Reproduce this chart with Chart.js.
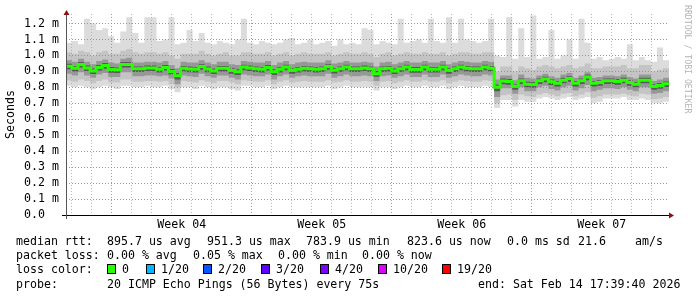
<!DOCTYPE html>
<html>
<head>
<meta charset="utf-8">
<script src="https://cdn.jsdelivr.net/npm/chart.js@4.4.1/dist/chart.umd.min.js"></script>
<style>
  html, body { margin: 0; padding: 0; background: #fff; }
  #wrap { position: relative; width: 697px; height: 297px; }
  canvas { position: absolute; left: 0; top: 0; }
  .row { position: absolute; left: 0; width: 697px; height: 14px; }
  .row span { position: absolute; top: 0; line-height: 14px; white-space: pre;
              font: 11.6px 'DejaVu Sans Mono', monospace; color: #000; }
  .row i { position: absolute; top: 2px; width: 7px; height: 8px; border: 1px solid #000; }
  #credit { position: absolute; left: 683px; top: 5px; writing-mode: vertical-rl;
            font: 8.2px 'DejaVu Sans Mono', monospace; color: #b4b4b4; white-space: pre; }
</style>
</head>
<body>
<div id="wrap">
  <canvas id="chartPing" width="697" height="297"></canvas>
  <div id="credit">RRDTOOL / TOBI OETIKER</div>
  <div class="row" style="top:234px">
    <span style="left:16px">median rtt:</span>
    <span style="left:107px">895.7 us avg</span>
    <span style="left:207px">951.3 us max</span>
    <span style="left:306px">783.9 us min</span>
    <span style="left:407px">823.6 us now</span>
    <span style="left:507px">0.0 ms sd</span>
    <span style="left:578px">21.6</span>
    <span style="left:635px">am/s</span>
  </div>
  <div class="row" style="top:248px">
    <span style="left:16px">packet loss:</span>
    <span style="left:107px">0.00 % avg</span>
    <span style="left:193px">0.05 % max</span>
    <span style="left:278px">0.00 % min</span>
    <span style="left:362px">0.00 % now</span>
  </div>
  <div class="row" id="lossRow" style="top:262px">
    <span style="left:16px">loss color:</span>
  </div>
  <div class="row" style="top:277px">
    <span style="left:16px">probe:</span>
    <span style="left:107px">20 ICMP Echo Pings (56 Bytes) every 75s</span>
    <span style="left:478px">end: Sat Feb 14 17:39:40 2026</span>
  </div>
</div>
<script>
// ---- data (milliseconds), 100 time buckets over the 30 day window ----
const SPAN_DAYS = 30.15;

const median = [
  0.933, 0.919, 0.944, 0.922, 0.903, 0.925, 0.937, 0.912, 0.910, 0.944,
  0.944, 0.916, 0.916, 0.922, 0.922, 0.913, 0.925, 0.900, 0.872, 0.919,
  0.915, 0.913, 0.930, 0.915, 0.903, 0.919, 0.919, 0.905, 0.898, 0.927,
  0.922, 0.916, 0.913, 0.925, 0.898, 0.913, 0.927, 0.905, 0.913, 0.919,
  0.916, 0.913, 0.916, 0.930, 0.907, 0.916, 0.927, 0.916, 0.916, 0.922,
  0.916, 0.886, 0.916, 0.919, 0.903, 0.916, 0.927, 0.912, 0.912, 0.927,
  0.913, 0.913, 0.927, 0.905, 0.916, 0.927, 0.919, 0.916, 0.916, 0.927,
  0.919, 0.800, 0.840, 0.837, 0.805, 0.841, 0.820, 0.818, 0.841, 0.852,
  0.835, 0.825, 0.845, 0.855, 0.825, 0.841, 0.865, 0.825, 0.830, 0.841,
  0.841, 0.837, 0.845, 0.830, 0.820, 0.845, 0.845, 0.805, 0.812, 0.822
];

// light smoke (outermost pings, incl. spikes)
const outerHi = [
  1.08, 1.09, 1.07, 1.23, 1.20, 1.16, 1.17, 1.12, 1.08, 1.15,
  1.24, 1.14, 1.08, 1.24, 1.24, 1.09, 1.10, 1.24, 1.07, 1.08,
  1.16, 1.09, 1.14, 1.08, 1.07, 1.09, 1.08, 1.07, 1.10, 1.23,
  1.08, 1.07, 1.09, 1.08, 1.07, 1.08, 1.10, 1.11, 1.07, 1.08,
  1.10, 1.07, 1.08, 1.09, 1.06, 1.10, 1.07, 1.08, 1.07, 1.17,
  1.16, 1.07, 1.09, 1.08, 1.07, 1.23, 1.08, 1.09, 1.10, 1.08,
  1.23, 1.09, 1.08, 1.24, 1.08, 1.23, 1.10, 1.09, 1.08, 1.09,
  1.23, 1.00, 0.99, 1.24, 0.98, 1.17, 0.99, 1.25, 0.98, 0.99,
  1.16, 0.98, 1.00, 1.10, 0.98, 1.23, 1.08, 0.98, 0.99, 0.97,
  0.98, 0.99, 0.98, 1.07, 0.97, 0.99, 0.97, 0.96, 1.05, 0.97
];
const outerLo = [
  0.81, 0.80, 0.81, 0.80, 0.79, 0.80, 0.81, 0.80, 0.79, 0.81,
  0.81, 0.80, 0.80, 0.81, 0.80, 0.80, 0.81, 0.79, 0.77, 0.80,
  0.80, 0.79, 0.81, 0.80, 0.79, 0.80, 0.80, 0.79, 0.78, 0.81,
  0.81, 0.80, 0.80, 0.81, 0.79, 0.80, 0.81, 0.80, 0.80, 0.80,
  0.80, 0.80, 0.80, 0.81, 0.79, 0.80, 0.81, 0.80, 0.80, 0.80,
  0.80, 0.78, 0.80, 0.80, 0.79, 0.80, 0.81, 0.80, 0.80, 0.81,
  0.80, 0.80, 0.81, 0.79, 0.80, 0.81, 0.80, 0.80, 0.80, 0.81,
  0.80, 0.67, 0.72, 0.72, 0.68, 0.72, 0.71, 0.71, 0.73, 0.74,
  0.73, 0.72, 0.73, 0.74, 0.72, 0.73, 0.74, 0.70, 0.71, 0.73,
  0.73, 0.73, 0.74, 0.72, 0.72, 0.73, 0.72, 0.70, 0.70, 0.71
];

// middle smoke
const midHi = [
  1.02, 1.01, 1.03, 1.02, 1.00, 1.02, 1.03, 1.01, 1.01, 1.03,
  1.04, 1.02, 1.01, 1.02, 1.02, 1.01, 1.02, 1.00, 0.98, 1.01,
  1.01, 1.01, 1.03, 1.01, 1.00, 1.01, 1.02, 1.00, 1.00, 1.02,
  1.02, 1.01, 1.01, 1.02, 1.00, 1.01, 1.02, 1.00, 1.01, 1.02,
  1.01, 1.01, 1.01, 1.02, 1.00, 1.01, 1.02, 1.01, 1.01, 1.02,
  1.01, 0.99, 1.01, 1.02, 1.00, 1.01, 1.02, 1.01, 1.01, 1.02,
  1.01, 1.01, 1.02, 1.00, 1.01, 1.02, 1.02, 1.01, 1.01, 1.02,
  1.02, 0.90, 0.93, 0.93, 0.90, 0.93, 0.92, 0.91, 0.93, 0.94,
  0.93, 0.92, 0.93, 0.94, 0.92, 0.93, 0.95, 0.92, 0.92, 0.93,
  0.93, 0.93, 0.94, 0.92, 0.92, 0.94, 0.94, 0.90, 0.91, 0.92
];
const midLo = [
  0.845, 0.835, 0.850, 0.840, 0.825, 0.840, 0.850, 0.830, 0.830, 0.850,
  0.850, 0.835, 0.835, 0.840, 0.840, 0.835, 0.840, 0.820, 0.800, 0.840,
  0.835, 0.830, 0.845, 0.835, 0.825, 0.840, 0.840, 0.830, 0.820, 0.845,
  0.840, 0.835, 0.835, 0.845, 0.820, 0.835, 0.845, 0.830, 0.835, 0.840,
  0.835, 0.835, 0.835, 0.845, 0.830, 0.835, 0.845, 0.835, 0.835, 0.840,
  0.835, 0.810, 0.835, 0.840, 0.825, 0.835, 0.845, 0.835, 0.835, 0.845,
  0.835, 0.835, 0.845, 0.825, 0.835, 0.845, 0.840, 0.835, 0.835, 0.845,
  0.840, 0.700, 0.750, 0.755, 0.720, 0.755, 0.745, 0.740, 0.755, 0.765,
  0.755, 0.745, 0.760, 0.765, 0.745, 0.755, 0.770, 0.735, 0.745, 0.755,
  0.755, 0.755, 0.760, 0.750, 0.745, 0.760, 0.755, 0.725, 0.730, 0.740
];

// darker smoke around the median
const innerHi = [
  0.970, 0.960, 0.980, 0.960, 0.945, 0.965, 0.975, 0.955, 0.950, 0.980,
  0.985, 0.955, 0.955, 0.960, 0.960, 0.955, 0.965, 0.940, 0.920, 0.960,
  0.955, 0.955, 0.970, 0.955, 0.945, 0.960, 0.960, 0.945, 0.940, 0.965,
  0.960, 0.955, 0.955, 0.965, 0.940, 0.955, 0.965, 0.945, 0.955, 0.960,
  0.955, 0.955, 0.955, 0.970, 0.950, 0.955, 0.965, 0.955, 0.955, 0.960,
  0.955, 0.930, 0.955, 0.960, 0.945, 0.955, 0.965, 0.955, 0.955, 0.965,
  0.955, 0.955, 0.965, 0.945, 0.955, 0.965, 0.960, 0.955, 0.955, 0.965,
  0.960, 0.850, 0.875, 0.875, 0.845, 0.880, 0.860, 0.855, 0.875, 0.885,
  0.870, 0.860, 0.880, 0.890, 0.860, 0.875, 0.895, 0.860, 0.865, 0.875,
  0.875, 0.870, 0.880, 0.865, 0.855, 0.880, 0.880, 0.840, 0.850, 0.860
];
const innerLo = [
  0.885, 0.875, 0.895, 0.875, 0.860, 0.880, 0.890, 0.865, 0.865, 0.895,
  0.895, 0.870, 0.870, 0.875, 0.875, 0.870, 0.875, 0.855, 0.820, 0.875,
  0.870, 0.865, 0.885, 0.870, 0.860, 0.875, 0.875, 0.860, 0.850, 0.880,
  0.875, 0.870, 0.870, 0.880, 0.850, 0.870, 0.880, 0.860, 0.870, 0.875,
  0.870, 0.870, 0.870, 0.885, 0.860, 0.870, 0.880, 0.870, 0.870, 0.875,
  0.870, 0.840, 0.870, 0.875, 0.860, 0.870, 0.880, 0.865, 0.865, 0.880,
  0.865, 0.865, 0.880, 0.860, 0.870, 0.880, 0.875, 0.870, 0.870, 0.880,
  0.875, 0.740, 0.795, 0.795, 0.760, 0.800, 0.775, 0.775, 0.800, 0.810,
  0.790, 0.780, 0.800, 0.810, 0.780, 0.795, 0.815, 0.775, 0.785, 0.795,
  0.795, 0.790, 0.800, 0.785, 0.775, 0.800, 0.800, 0.760, 0.765, 0.775
];

// darkest smoke hugging the median
const coreHi = [
  0.948, 0.934, 0.959, 0.937, 0.918, 0.940, 0.952, 0.927, 0.925, 0.959,
  0.959, 0.931, 0.931, 0.937, 0.937, 0.928, 0.940, 0.915, 0.890, 0.934,
  0.930, 0.928, 0.945, 0.930, 0.918, 0.934, 0.934, 0.920, 0.913, 0.942,
  0.937, 0.931, 0.928, 0.940, 0.913, 0.928, 0.942, 0.920, 0.928, 0.934,
  0.931, 0.928, 0.931, 0.945, 0.922, 0.931, 0.942, 0.931, 0.931, 0.937,
  0.931, 0.903, 0.931, 0.934, 0.918, 0.931, 0.942, 0.927, 0.927, 0.942,
  0.928, 0.928, 0.942, 0.920, 0.931, 0.942, 0.934, 0.931, 0.931, 0.942,
  0.934, 0.818, 0.855, 0.852, 0.820, 0.856, 0.835, 0.833, 0.856, 0.867,
  0.850, 0.840, 0.860, 0.870, 0.840, 0.856, 0.880, 0.840, 0.845, 0.856,
  0.856, 0.852, 0.860, 0.845, 0.835, 0.860, 0.860, 0.820, 0.827, 0.837
];
const coreLo = [
  0.913, 0.899, 0.924, 0.902, 0.883, 0.905, 0.917, 0.892, 0.890, 0.924,
  0.924, 0.896, 0.896, 0.902, 0.902, 0.893, 0.905, 0.880, 0.850, 0.899,
  0.895, 0.893, 0.910, 0.895, 0.883, 0.899, 0.899, 0.885, 0.878, 0.907,
  0.902, 0.896, 0.893, 0.905, 0.878, 0.893, 0.907, 0.885, 0.893, 0.899,
  0.896, 0.893, 0.896, 0.910, 0.887, 0.896, 0.907, 0.896, 0.896, 0.902,
  0.896, 0.866, 0.896, 0.899, 0.883, 0.896, 0.907, 0.892, 0.892, 0.907,
  0.893, 0.893, 0.907, 0.885, 0.896, 0.907, 0.899, 0.896, 0.896, 0.907,
  0.899, 0.775, 0.820, 0.817, 0.785, 0.821, 0.800, 0.798, 0.821, 0.832,
  0.815, 0.805, 0.825, 0.835, 0.805, 0.821, 0.845, 0.805, 0.810, 0.821,
  0.821, 0.817, 0.825, 0.810, 0.800, 0.825, 0.825, 0.785, 0.792, 0.802
];

const yTickValues = [0, 0.1, 0.2, 0.3, 0.4, 0.5, 0.6, 0.7, 0.8, 0.9, 1.0, 1.1, 1.2];
const yTickLabels = ['0.0  ', '0.1 m', '0.2 m', '0.3 m', '0.4 m', '0.5 m', '0.6 m',
                     '0.7 m', '0.8 m', '0.9 m', '1.0 m', '1.1 m', '1.2 m'];
const weekLabels = ['Week 04', 'Week 05', 'Week 06', 'Week 07'];

const lossLabels = ['0', '1/20', '2/20', '3/20', '4/20', '10/20', '19/20'];
const lossColors = ['#26ff00', '#00b8ff', '#0059ff', '#5e00ff', '#7e00ff', '#dd00ff', '#ff0000'];

// ---- legend swatches ----
const swatchX = [107, 146, 203, 261, 320, 378, 442];
const lossRow = document.getElementById('lossRow');
lossLabels.forEach((lbl, i) => {
    const box = document.createElement('i');
    box.style.left = swatchX[i] + 'px';
    box.style.background = lossColors[i];
    lossRow.appendChild(box);
    const t = document.createElement('span');
    t.style.left = (swatchX[i] + 15) + 'px';
    t.textContent = lbl;
    lossRow.appendChild(t);
});

// ---- chart ----
const MONO = "'DejaVu Sans Mono', monospace";
const FIRST_DAY_LINE = 0.285;   // first midnight after the start of the window
const FIRST_WEEK_LINE = 2;      // index of the first week boundary among the day lines

function toPoints(arr) {
    const step = SPAN_DAYS / arr.length;
    const pts = arr.map((v, i) => ({ x: i * step, y: v }));
    pts.push({ x: SPAN_DAYS, y: arr[arr.length - 1] });
    return pts;
}

function smoke(data, color, fill) {
    return {
        data: toPoints(data),
        stepped: true,
        borderWidth: 0,
        borderColor: 'transparent',
        backgroundColor: color,
        pointRadius: 0,
        fill: fill ? '+1' : false
    };
}

const axisArrows = {
    id: 'axisArrows',
    afterDraw(chart) {
        const { ctx, chartArea: a } = chart;
        ctx.save();
        ctx.lineWidth = 1;
        ctx.strokeStyle = '#000';
        ctx.beginPath();
        ctx.moveTo(a.left - 4, a.bottom + 0.5);
        ctx.lineTo(a.right + 1, a.bottom + 0.5);
        ctx.stroke();
        ctx.strokeStyle = '#555';
        ctx.beginPath();
        ctx.moveTo(a.left + 0.5, a.bottom + 4);
        ctx.lineTo(a.left + 0.5, a.top - 1);
        ctx.stroke();
        ctx.fillStyle = '#8b1010';
        ctx.beginPath();
        ctx.moveTo(a.left + 0.5, a.top - 4);
        ctx.lineTo(a.left - 2.5, a.top + 1);
        ctx.lineTo(a.left + 3.5, a.top + 1);
        ctx.fill();
        ctx.beginPath();
        ctx.moveTo(a.right + 5, a.bottom + 0.5);
        ctx.lineTo(a.right, a.bottom - 2.5);
        ctx.lineTo(a.right, a.bottom + 3.5);
        ctx.fill();
        ctx.restore();
    }
};

new Chart(document.getElementById('chartPing'), {
    type: 'line',
    data: {
        datasets: [
            {
                label: 'median rtt',
                data: toPoints(median),
                stepped: true,
                borderColor: lossColors[0],
                borderWidth: 3,
                pointRadius: 0,
                fill: false
            },
            smoke(coreHi, '#5a5a5a', true),
            smoke(coreLo, '#5a5a5a', false),
            smoke(innerHi, '#979797', true),
            smoke(innerLo, '#979797', false),
            smoke(midHi, '#c4c4c4', true),
            smoke(midLo, '#c4c4c4', false),
            smoke(outerHi, '#dcdcdc', true),
            smoke(outerLo, '#dcdcdc', false)
        ]
    },
    options: {
        responsive: false,
        animation: false,
        events: [],
        // y tick labels add ~4px above the plot, so 6 here gives a plot top of 10px
        layout: { padding: { left: 0, right: 28, top: 6, bottom: 0 } },
        plugins: {
            legend: { display: false },
            tooltip: { enabled: false }
        },
        scales: {
            x: {
                type: 'linear',
                min: 0,
                max: SPAN_DAYS,
                position: 'bottom',
                afterBuildTicks: s => {
                    const t = [];
                    for (let d = FIRST_DAY_LINE; d < SPAN_DAYS; d += 1) t.push({ value: d });
                    s.ticks = t;
                },
                afterFit: s => { s.height = 0; },
                ticks: { display: false, autoSkip: false },
                border: { display: false, dash: [1, 2] },
                grid: {
                    z: 1,
                    drawTicks: false,
                    color: c => (c.index - FIRST_WEEK_LINE) % 7 === 0 ? 'rgba(225,110,110,0.9)' : 'rgba(175,175,175,0.9)'
                }
            },
            x2: {
                type: 'linear',
                min: 0,
                max: SPAN_DAYS,
                position: 'bottom',
                afterBuildTicks: s => {
                    s.ticks = weekLabels.map((_, i) => ({ value: FIRST_DAY_LINE + FIRST_WEEK_LINE + 3.5 + 7 * i }));
                },
                afterFit: s => { s.height = 82; },
                ticks: {
                    padding: 3,
                    maxRotation: 0,
                    autoSkip: false,
                    color: '#000',
                    font: { family: MONO, size: 11.6 },
                    callback: (v, i) => weekLabels[i]
                },
                border: { display: false },
                grid: { display: false, drawTicks: false }
            },
            y: {
                type: 'linear',
                min: 0,
                max: 1.26,
                afterBuildTicks: s => { s.ticks = yTickValues.map(v => ({ value: v })); },
                afterFit: s => { s.width = 66; },
                ticks: {
                    padding: 7,
                    autoSkip: false,
                    color: '#000',
                    font: { family: MONO, size: 11.6 },
                    callback: (v, i) => yTickLabels[i]
                },
                title: {
                    display: true,
                    text: 'Seconds',
                    color: '#000',
                    font: { family: MONO, size: 11.6 },
                    padding: { top: 4, bottom: 0 }
                },
                border: { display: false, dash: [1, 2] },
                grid: { z: 1, drawTicks: false, color: 'rgba(225,110,110,0.9)' }
            }
        }
    },
    plugins: [axisArrows]
});
</script>
</body>
</html>
